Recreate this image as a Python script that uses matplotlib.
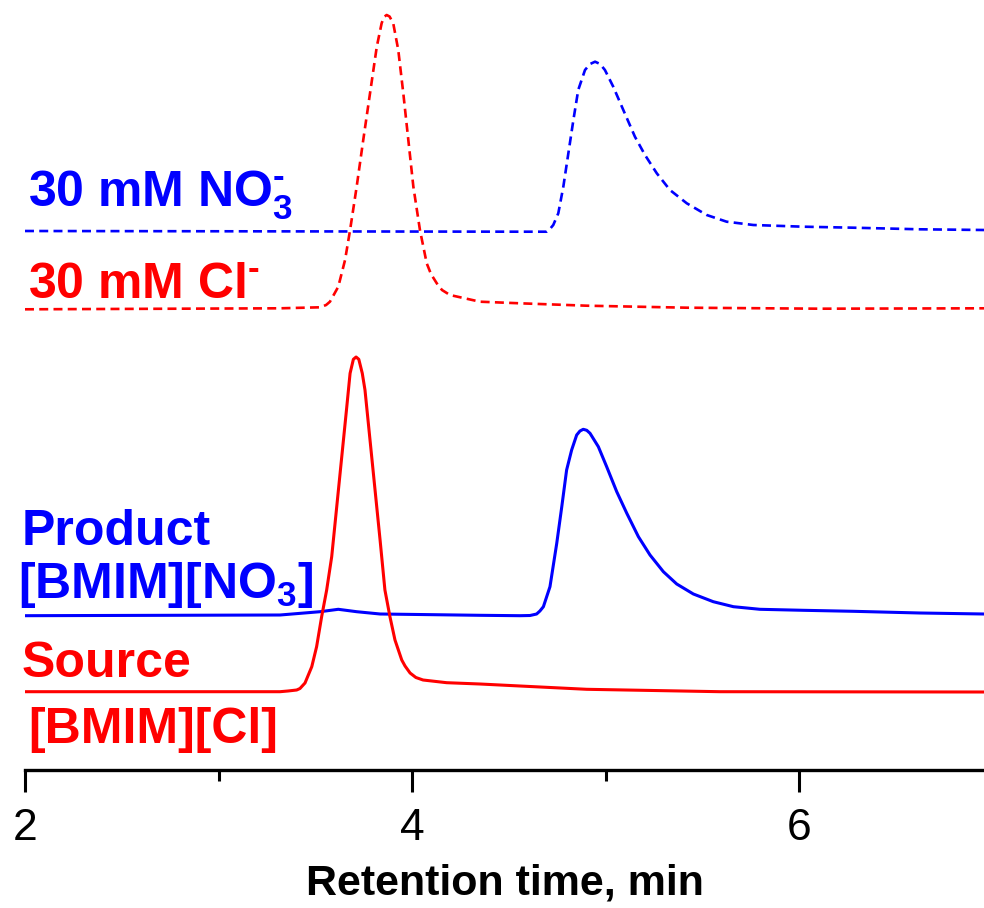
#!/usr/bin/env python
"""Ion chromatograms: ion-exchanged ionic liquid vs. source and standards."""

import matplotlib.pyplot as plt
from matplotlib.ticker import MultipleLocator

# Source [BMIM][Cl] (solid red)
SOURCE_T = [
    2.000, 3.318, 3.359, 3.404, 3.421, 3.447, 3.482, 3.507, 3.533, 3.559,
    3.585, 3.611, 3.637, 3.663, 3.680, 3.697, 3.711, 3.725, 3.743, 3.757,
    3.783, 3.809, 3.835, 3.860, 3.886, 3.912, 3.947, 3.964, 3.990, 4.020,
    4.057, 4.179, 4.351, 4.558, 4.903, 5.592, 6.956,
]
SOURCE_Y = [
    7.63, 7.63, 7.70, 7.80, 7.95, 8.50, 10.13, 12.13, 15.13, 17.80,
    21.13, 26.13, 31.13, 36.13, 39.47, 40.87, 41.10, 40.87, 39.47, 37.80,
    32.80, 27.80, 22.80, 17.80, 15.13, 12.80, 10.80, 10.20, 9.50, 9.05,
    8.80, 8.53, 8.40, 8.20, 7.87, 7.63, 7.60,
]

# Product [BMIM][NO3] (solid blue)
PRODUCT_T = [
    2.000, 3.318, 3.525, 3.619, 3.714, 3.835, 4.351, 4.558, 4.610, 4.644,
    4.661, 4.679, 4.713, 4.748, 4.774, 4.799, 4.825, 4.851, 4.868, 4.885,
    4.903, 4.920, 4.963, 5.006, 5.058, 5.110, 5.170, 5.230, 5.299, 5.368,
    5.454, 5.557, 5.661, 5.798, 6.022, 6.281, 6.625, 6.956,
]
PRODUCT_Y = [
    15.23, 15.30, 15.63, 15.87, 15.63, 15.40, 15.27, 15.23, 15.25, 15.40,
    15.70, 16.13, 18.13, 22.47, 26.13, 29.80, 31.80, 33.30, 33.70, 33.87,
    33.77, 33.47, 32.13, 30.13, 27.63, 25.47, 23.13, 21.30, 19.63, 18.40,
    17.40, 16.63, 16.13, 15.87, 15.77, 15.67, 15.50, 15.40,
]

# 30 mM NO3- standard (dashed blue)
NITRATE_T = [
    2.000, 4.558, 4.696, 4.713, 4.730, 4.756, 4.782, 4.808, 4.834, 4.859,
    4.894, 4.920, 4.946, 4.972, 4.997, 5.040, 5.092, 5.152, 5.204, 5.265,
    5.333, 5.420, 5.523, 5.626, 5.764, 6.022, 6.281, 6.625, 6.956,
]
NITRATE_Y = [
    53.70, 53.63, 53.63, 53.90, 54.30, 55.47, 58.13, 61.47, 64.80, 67.80,
    69.80, 70.40, 70.63, 70.40, 69.80, 68.13, 65.80, 63.13, 61.30, 59.47,
    57.80, 56.47, 55.30, 54.63, 54.30, 54.13, 54.03, 53.87, 53.80,
]

# 30 mM Cl- standard (dashed red)
CHLORIDE_T = [
    2.000, 3.318, 3.525, 3.556, 3.576, 3.619, 3.654, 3.680, 3.714, 3.748,
    3.783, 3.818, 3.843, 3.855, 3.869, 3.884, 3.903, 3.929, 3.955, 3.981,
    4.007, 4.041, 4.076, 4.098, 4.128, 4.155, 4.196, 4.351, 4.558, 4.903,
    5.420, 6.109, 6.956,
]
CHLORIDE_Y = [
    45.87, 45.97, 46.07, 46.30, 46.63, 48.13, 50.80, 53.80, 58.13, 62.80,
    67.47, 72.13, 74.47, 75.10, 75.30, 75.15, 74.47, 71.80, 67.47, 62.80,
    58.13, 53.80, 50.47, 49.40, 48.47, 47.80, 47.30, 46.63, 46.47, 46.23,
    46.03, 45.93, 45.97,
]

BLUE = "#0000ff"
RED = "#ff0000"
DASH = (0, (3.4, 2))


def plot_chromatograms():
    """Draw the four stacked traces and their labels."""
    plt.rcParams["font.family"] = ["Liberation Sans", "DejaVu Sans"]
    plt.rcParams["mathtext.fontset"] = "custom"
    plt.rcParams["mathtext.rm"] = "Liberation Sans:bold"
    plt.rcParams["mathtext.it"] = "Liberation Sans:bold"
    plt.rcParams["mathtext.bf"] = "Liberation Sans:bold"
    plt.rcParams["lines.solid_joinstyle"] = "round"
    plt.rcParams["lines.dash_joinstyle"] = "round"

    fig = plt.figure(figsize=(9.84, 9.08), dpi=100)
    ax = fig.add_axes([25 / 984, 138 / 908, 1 - 25 / 984, 1 - 138 / 908])

    ax.plot(CHLORIDE_T, CHLORIDE_Y, color=RED, lw=1.9, linestyle=DASH)
    ax.plot(NITRATE_T, NITRATE_Y, color=BLUE, lw=1.9, linestyle=DASH)
    ax.plot(PRODUCT_T, PRODUCT_Y, color=BLUE, lw=2.2)
    ax.plot(SOURCE_T, SOURCE_Y, color=RED, lw=2.2)

    ax.set_xlim(2, 6.956)
    ax.set_ylim(-0.2, 76.8)

    for side in ("left", "right", "top"):
        ax.spines[side].set_visible(False)
    ax.spines["bottom"].set_linewidth(2.4)
    ax.set_yticks([])

    ax.xaxis.set_major_locator(MultipleLocator(2))
    ax.xaxis.set_minor_locator(MultipleLocator(1))
    ax.tick_params(axis="x", which="major", direction="out", length=16,
                   width=2.2, pad=11, labelsize=32)
    ax.tick_params(axis="x", which="minor", direction="out", length=8,
                   width=2.2)
    ax.set_xlabel("Retention time, min", fontsize=31, fontweight="bold",
                  labelpad=11)

    label_style = dict(fontsize=36, fontweight="bold", va="baseline",
                       ha="left")
    ax.text(2.015, 56.2, r"30 mM NO$_3^{\text{-}}$", color=BLUE, **label_style)
    ax.text(2.015, 47.0, r"30 mM Cl$^{\text{-}}$", color=RED, **label_style)
    ax.text(1.985, 22.3, "Product", color=BLUE, **label_style)
    ax.text(1.965, 16.97, r"[BMIM][NO$_3$]", color=BLUE, **label_style)
    ax.text(1.985, 9.13, "Source", color=RED, **label_style)
    ax.text(2.015, 2.5, "[BMIM][Cl]", color=RED, **label_style)

    for txt in ax.texts:
        txt.set_clip_on(False)

    fig.savefig("out.png", dpi=100, facecolor="white")


if __name__ == "__main__":
    plot_chromatograms()
